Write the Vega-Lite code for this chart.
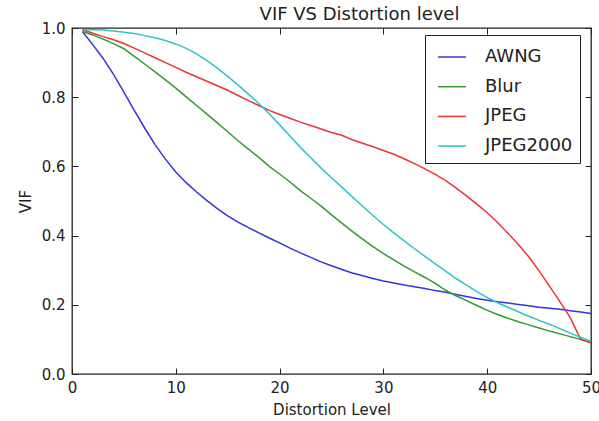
{
  "$schema": "https://vega.github.io/schema/vega-lite/v6.json",
  "width": 519,
  "height": 346,
  "autosize": {"type": "none"},
  "padding": {"left": 72, "top": 28, "right": 8, "bottom": 47},
  "background": "white",
  "config": {
    "font": "DejaVu Sans",
    "view": {"stroke": "#222222", "strokeWidth": 1.3},
    "axis": {
      "domain": false,
      "grid": false,
      "tickColor": "#222222",
      "tickSize": -6,
      "tickWidth": 1,
      "labelFlush": false,
      "labelFont": "DejaVu Sans",
      "labelFontSize": 15,
      "labelColor": "#222222",
      "titleFont": "DejaVu Sans",
      "titleFontSize": 15,
      "titleFontWeight": "normal",
      "titleColor": "#222222"
    }
  },
  "title": {
    "text": "VIF VS Distortion level",
    "fontSize": 18,
    "fontWeight": "normal",
    "font": "DejaVu Sans",
    "color": "#222222",
    "offset": -3,
    "dx": 28,
    "frame": "group",
    "anchor": "middle"
  },
  "data": {
    "values": [
      {"level": 1, "AWNG": 0.99, "Blur": 0.99, "JPEG": 0.995, "JPEG2000": 0.995},
      {"level": 2, "AWNG": 0.952, "Blur": 0.98, "JPEG": 0.985, "JPEG2000": 0.995},
      {"level": 3, "AWNG": 0.912, "Blur": 0.968, "JPEG": 0.975, "JPEG2000": 0.994},
      {"level": 4, "AWNG": 0.866, "Blur": 0.955, "JPEG": 0.966, "JPEG2000": 0.991},
      {"level": 5, "AWNG": 0.815, "Blur": 0.94, "JPEG": 0.955, "JPEG2000": 0.988},
      {"level": 6, "AWNG": 0.762, "Blur": 0.918, "JPEG": 0.942, "JPEG2000": 0.984},
      {"level": 7, "AWNG": 0.711, "Blur": 0.896, "JPEG": 0.928, "JPEG2000": 0.978},
      {"level": 8, "AWNG": 0.663, "Blur": 0.873, "JPEG": 0.914, "JPEG2000": 0.972},
      {"level": 9, "AWNG": 0.621, "Blur": 0.85, "JPEG": 0.9, "JPEG2000": 0.964},
      {"level": 10, "AWNG": 0.584, "Blur": 0.826, "JPEG": 0.886, "JPEG2000": 0.954},
      {"level": 11, "AWNG": 0.553, "Blur": 0.801, "JPEG": 0.872, "JPEG2000": 0.941},
      {"level": 12, "AWNG": 0.526, "Blur": 0.776, "JPEG": 0.859, "JPEG2000": 0.925},
      {"level": 13, "AWNG": 0.501, "Blur": 0.751, "JPEG": 0.846, "JPEG2000": 0.906},
      {"level": 14, "AWNG": 0.478, "Blur": 0.726, "JPEG": 0.833, "JPEG2000": 0.884},
      {"level": 15, "AWNG": 0.457, "Blur": 0.7, "JPEG": 0.82, "JPEG2000": 0.86},
      {"level": 16, "AWNG": 0.439, "Blur": 0.674, "JPEG": 0.805, "JPEG2000": 0.835},
      {"level": 17, "AWNG": 0.423, "Blur": 0.65, "JPEG": 0.79, "JPEG2000": 0.809},
      {"level": 18, "AWNG": 0.408, "Blur": 0.626, "JPEG": 0.776, "JPEG2000": 0.782},
      {"level": 19, "AWNG": 0.393, "Blur": 0.6, "JPEG": 0.762, "JPEG2000": 0.752},
      {"level": 20, "AWNG": 0.379, "Blur": 0.578, "JPEG": 0.75, "JPEG2000": 0.72},
      {"level": 21, "AWNG": 0.364, "Blur": 0.555, "JPEG": 0.739, "JPEG2000": 0.688},
      {"level": 22, "AWNG": 0.35, "Blur": 0.53, "JPEG": 0.728, "JPEG2000": 0.655},
      {"level": 23, "AWNG": 0.337, "Blur": 0.508, "JPEG": 0.718, "JPEG2000": 0.625},
      {"level": 24, "AWNG": 0.324, "Blur": 0.485, "JPEG": 0.708, "JPEG2000": 0.595},
      {"level": 25, "AWNG": 0.313, "Blur": 0.46, "JPEG": 0.698, "JPEG2000": 0.567},
      {"level": 26, "AWNG": 0.302, "Blur": 0.436, "JPEG": 0.69, "JPEG2000": 0.54},
      {"level": 27, "AWNG": 0.292, "Blur": 0.412, "JPEG": 0.677, "JPEG2000": 0.512},
      {"level": 28, "AWNG": 0.284, "Blur": 0.39, "JPEG": 0.667, "JPEG2000": 0.485},
      {"level": 29, "AWNG": 0.276, "Blur": 0.368, "JPEG": 0.657, "JPEG2000": 0.458},
      {"level": 30, "AWNG": 0.269, "Blur": 0.348, "JPEG": 0.646, "JPEG2000": 0.432},
      {"level": 31, "AWNG": 0.263, "Blur": 0.33, "JPEG": 0.635, "JPEG2000": 0.408},
      {"level": 32, "AWNG": 0.257, "Blur": 0.312, "JPEG": 0.622, "JPEG2000": 0.385},
      {"level": 33, "AWNG": 0.252, "Blur": 0.295, "JPEG": 0.608, "JPEG2000": 0.362},
      {"level": 34, "AWNG": 0.247, "Blur": 0.279, "JPEG": 0.593, "JPEG2000": 0.34},
      {"level": 35, "AWNG": 0.241, "Blur": 0.262, "JPEG": 0.577, "JPEG2000": 0.318},
      {"level": 36, "AWNG": 0.236, "Blur": 0.242, "JPEG": 0.559, "JPEG2000": 0.297},
      {"level": 37, "AWNG": 0.23, "Blur": 0.226, "JPEG": 0.538, "JPEG2000": 0.276},
      {"level": 38, "AWNG": 0.224, "Blur": 0.212, "JPEG": 0.515, "JPEG2000": 0.257},
      {"level": 39, "AWNG": 0.218, "Blur": 0.198, "JPEG": 0.491, "JPEG2000": 0.238},
      {"level": 40, "AWNG": 0.213, "Blur": 0.184, "JPEG": 0.466, "JPEG2000": 0.221},
      {"level": 41, "AWNG": 0.209, "Blur": 0.172, "JPEG": 0.438, "JPEG2000": 0.206},
      {"level": 42, "AWNG": 0.205, "Blur": 0.161, "JPEG": 0.407, "JPEG2000": 0.193},
      {"level": 43, "AWNG": 0.201, "Blur": 0.151, "JPEG": 0.374, "JPEG2000": 0.18},
      {"level": 44, "AWNG": 0.197, "Blur": 0.142, "JPEG": 0.339, "JPEG2000": 0.167},
      {"level": 45, "AWNG": 0.193, "Blur": 0.133, "JPEG": 0.298, "JPEG2000": 0.155},
      {"level": 46, "AWNG": 0.19, "Blur": 0.124, "JPEG": 0.254, "JPEG2000": 0.144},
      {"level": 47, "AWNG": 0.187, "Blur": 0.116, "JPEG": 0.209, "JPEG2000": 0.131},
      {"level": 48, "AWNG": 0.183, "Blur": 0.108, "JPEG": 0.163, "JPEG2000": 0.118},
      {"level": 49, "AWNG": 0.179, "Blur": 0.1, "JPEG": 0.1, "JPEG2000": 0.106},
      {"level": 50, "AWNG": 0.175, "Blur": 0.091, "JPEG": 0.09, "JPEG2000": 0.095}
    ]
  },
  "transform": [{"fold": ["AWNG", "Blur", "JPEG", "JPEG2000"], "as": ["type", "vif"]}],
  "layer": [
    {
      "mark": {"type": "line", "strokeWidth": 1.5},
      "encoding": {
        "x": {
          "field": "level", "type": "quantitative",
          "scale": {"domain": [0, 50], "nice": false, "zero": false},
          "axis": {"orient": "bottom", "values": [0, 10, 20, 30, 40, 50], "title": "Distortion Level", "labelPadding": 12, "titleY": 40, "titleBaseline": "alphabetic"}
        },
        "y": {
          "field": "vif", "type": "quantitative",
          "scale": {"domain": [0, 1], "nice": false},
          "axis": {"orient": "left", "values": [0, 0.2, 0.4, 0.6, 0.8, 1.0], "format": ".1f", "title": "VIF", "labelPadding": 13, "titleX": -42, "titleBaseline": "alphabetic"}
        },
        "color": {
          "field": "type", "type": "nominal",
          "scale": {"domain": ["AWNG", "Blur", "JPEG", "JPEG2000"], "range": ["#3333dd", "#339933", "#ee3333", "#2ec4c4"]},
          "legend": {
            "orient": "none", "legendX": 353, "legendY": 7, "title": null,
            "symbolType": "stroke", "symbolSize": 784, "symbolStrokeWidth": 1.5, "symbolOffset": 5,
            "labelFontSize": 18, "labelFont": "DejaVu Sans", "labelColor": "#222222",
            "labelOffset": 18, "padding": 7, "rowPadding": 5.7,
            "strokeColor": "#222222", "fillColor": "white", "cornerRadius": 0
          }
        }
      }
    },
    {
      "mark": {"type": "point", "opacity": 0},
      "encoding": {
        "x": {"field": "level", "type": "quantitative", "axis": {"orient": "top", "values": [0, 10, 20, 30, 40, 50], "labels": false, "title": null}},
        "y": {"field": "vif", "type": "quantitative", "axis": {"orient": "right", "values": [0, 0.2, 0.4, 0.6, 0.8, 1.0], "labels": false, "title": null}}
      }
    }
  ],
  "resolve": {"axis": {"x": "independent", "y": "independent"}}
}
